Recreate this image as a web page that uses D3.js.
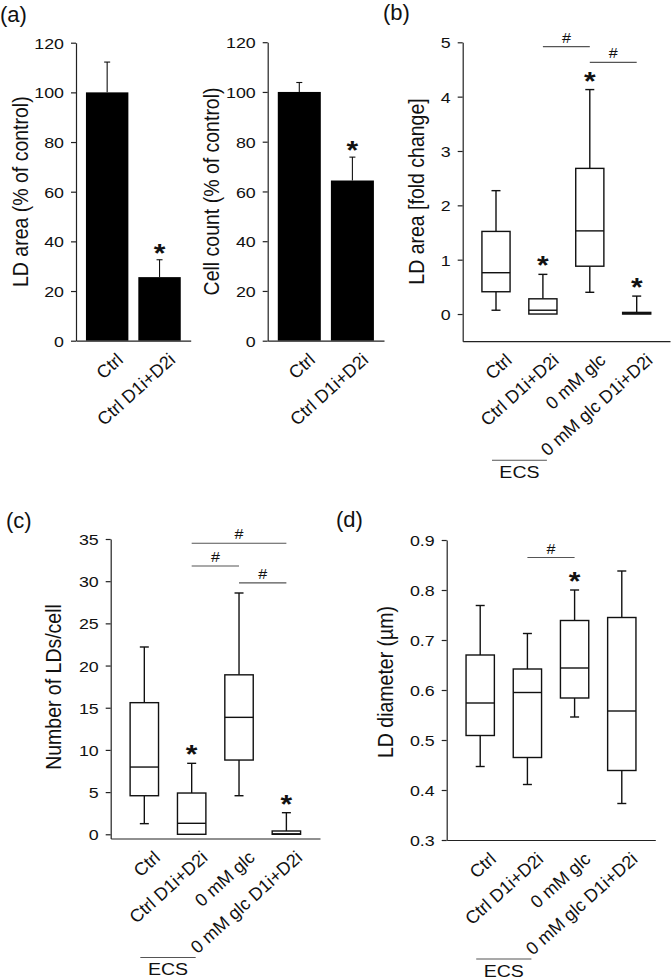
<!DOCTYPE html>
<html>
<head>
<meta charset="utf-8">
<script src="https://cdn.jsdelivr.net/npm/d3@7"></script>
<style>
  html, body { margin: 0; padding: 0; background: #fff; }
  svg { display: block; }
</style>
</head>
<body>
<svg id="fig" width="671" height="979"></svg>
<script>
// ---------------- DATA ----------------
const barCategories = ["Ctrl", "Ctrl D1i+D2i"];
const ldAreaMean = [100, 25.6];
const ldAreaErr = [12.2, 7.0];
const ldAreaStar = [false, true];
const cellCountMean = [100, 64.4];
const cellCountErr = [3.8, 9.4];
const cellCountStar = [false, true];
const barTicks = [0, 20, 40, 60, 80, 100, 120];

const boxCategories = ["Ctrl", "Ctrl D1i+D2i", "0 mM glc", "0 mM glc D1i+D2i"];
// [min, q1, median, q3, max]
const ldFoldStats = [
  [0.07, 0.41, 0.76, 1.52, 2.27],
  [0.00, 0.00, 0.07, 0.28, 0.73],
  [0.40, 0.88, 1.53, 2.68, 4.13],
  [0.00, 0.00, 0.01, 0.03, 0.33]
];
const ldFoldStar = [false, true, true, true];
const ldFoldTicks = [0, 1, 2, 3, 4, 5];
const ldFoldSig = [[1, 2, 4.92], [2, 3, 4.63]];

const ldNumStats = [
  [1.26, 4.57, 7.97, 15.6, 22.2],
  [0.00, 0.00, 1.30, 4.89, 8.41],
  [4.57, 8.80, 13.86, 18.9, 28.6],
  [0.00, 0.00, 0.05, 0.39, 2.56]
];
const ldNumStar = [false, true, false, true];
const ldNumTicks = [0, 5, 10, 15, 20, 25, 30, 35];
const ldNumSig = [[1, 3, 34.5], [1, 2, 31.8], [2, 3, 29.8]];

const ldDiamStats = [
  [0.447, 0.509, 0.574, 0.670, 0.769],
  [0.411, 0.465, 0.595, 0.642, 0.713],
  [0.546, 0.584, 0.644, 0.739, 0.800],
  [0.373, 0.439, 0.558, 0.745, 0.838]
];
const ldDiamStar = [false, false, true, false];
const ldDiamTicks = [0.3, 0.4, 0.5, 0.6, 0.7, 0.8, 0.9];
const ldDiamSig = [[1, 2, 0.865]];

const groupLabel = "ECS";

// ---------------- STYLE ----------------
const FONT = "'Liberation Sans', Arial, Helvetica, sans-serif";
const SX = 1.15;            // horizontal stretch of the original figure text
const AXIS_COLOR = "#222";
const SIG_COLOR = "#555";
const TEXT_COLOR = "#111";

const svg = d3.select("#fig");

function yAxis(x, y, ticks, fmt) {
  const ax = svg.append("g").attr("transform", `translate(${x},0)`)
    .call(d3.axisLeft(y).tickValues(ticks).tickSize(5).tickSizeOuter(0).tickFormat(fmt));
  ax.selectAll("path, line").attr("stroke", AXIS_COLOR).attr("stroke-width", 1.2);
  ax.selectAll(".tick text")
    .attr("x", 0).attr("dy", "0.36em")
    .attr("transform", `translate(-12,0) scale(${SX},1)`)
    .attr("font-size", 15.5).attr("font-family", FONT).attr("fill", TEXT_COLOR);
}

function xAxis(x, yPos) {
  const ax = svg.append("g").attr("transform", `translate(0,${yPos})`)
    .call(d3.axisBottom(x).tickSize(0).tickSizeOuter(0));
  ax.select(".domain").attr("stroke", AXIS_COLOR).attr("stroke-width", 1.2);
  ax.selectAll(".tick text")
    .attr("y", 0).attr("dy", 0).attr("text-anchor", "end")
    .attr("transform", "translate(17,20.5) rotate(-42)")
    .attr("font-size", 18).attr("font-family", FONT).attr("fill", TEXT_COLOR);
}

function yTitle(text, cx, cy) {
  svg.append("text")
    .attr("transform", `translate(${cx},${cy}) scale(${SX},1) rotate(-90)`)
    .attr("text-anchor", "middle").attr("dy", "0.35em")
    .attr("font-size", 19.5).attr("font-family", FONT).attr("fill", TEXT_COLOR)
    .text(text);
}

function panelLabel(text, x, y) {
  svg.append("text").attr("x", x).attr("y", y)
    .attr("font-size", 22).attr("font-family", FONT).attr("fill", TEXT_COLOR)
    .text(text);
}

function star(cx, cyCenter) {
  svg.append("text")
    .attr("transform", `translate(${cx},${cyCenter + 15}) scale(${SX},1)`)
    .attr("text-anchor", "middle")
    .attr("font-size", 26).attr("font-weight", "bold")
    .attr("font-family", FONT).attr("fill", TEXT_COLOR)
    .text("*");
}

function sigLines(x, y, sig) {
  const c = d => x(boxCategories[d]) + x.bandwidth() / 2;
  sig.forEach(([a, b, v]) => {
    svg.append("line")
      .attr("x1", c(a)).attr("x2", c(b)).attr("y1", y(v)).attr("y2", y(v))
      .attr("stroke", SIG_COLOR).attr("stroke-width", 1.1);
    svg.append("text")
      .attr("transform", `translate(${(c(a) + c(b)) / 2},${y(v) - 4}) scale(${SX},1)`)
      .attr("text-anchor", "middle")
      .attr("font-size", 14).attr("font-family", FONT).attr("fill", TEXT_COLOR)
      .text("#");
  });
}

function ecsBracket(x, axisY) {
  const c0 = x(boxCategories[0]) + x.bandwidth() / 2;
  const c1 = x(boxCategories[1]) + x.bandwidth() / 2;
  svg.append("line")
    .attr("x1", c0 - 4).attr("x2", c1 + 4)
    .attr("y1", axisY + 119).attr("y2", axisY + 119)
    .attr("stroke", SIG_COLOR).attr("stroke-width", 1.1);
  svg.append("text")
    .attr("transform", `translate(${(c0 + c1) / 2},${axisY + 136.5}) scale(${SX},1)`)
    .attr("text-anchor", "middle")
    .attr("font-size", 17).attr("font-family", FONT).attr("fill", TEXT_COLOR)
    .text(groupLabel);
}

// ---------------- BAR PANELS (a) ----------------
function barPanel(cfg) {
  const y = d3.scaleLinear().domain([0, 120]).range([cfg.y0, cfg.y120]);
  const x = d3.scaleBand().domain(barCategories).range([cfg.x0, cfg.x1])
    .paddingInner(0.19).paddingOuter(0.19);
  svg.append("g").selectAll("rect").data(cfg.mean).join("rect")
    .attr("x", (d, i) => x(barCategories[i]))
    .attr("width", x.bandwidth())
    .attr("y", d => y(d)).attr("height", d => y(0) - y(d))
    .attr("fill", "#000");
  cfg.mean.forEach((m, i) => {
    const cx = x(barCategories[i]) + x.bandwidth() / 2;
    const top = y(m + cfg.err[i]);
    svg.append("line").attr("x1", cx).attr("x2", cx).attr("y1", y(m)).attr("y2", top)
      .attr("stroke", "#111").attr("stroke-width", 1.1);
    svg.append("line").attr("x1", cx - 3).attr("x2", cx + 3).attr("y1", top).attr("y2", top)
      .attr("stroke", "#111").attr("stroke-width", 1.1);
    if (cfg.star[i]) star(cx, top - 13);
  });
  yAxis(cfg.x0, y, barTicks, d3.format("d"));
  xAxis(x, y(0));
  yTitle(cfg.title, cfg.titleX, (cfg.y0 + cfg.y120) / 2);
}

barPanel({ x0: 76, x1: 190.7, y0: 340.7, y120: 42.7, mean: ldAreaMean, err: ldAreaErr,
  star: ldAreaStar, title: "LD area (% of control)", titleX: 20 });
barPanel({ x0: 267.7, x1: 384, y0: 340.7, y120: 42.2, mean: cellCountMean, err: cellCountErr,
  star: cellCountStar, title: "Cell count (% of control)", titleX: 211 });
panelLabel("(a)", 0, 22);

// ---------------- BOX PANELS (b)(c)(d) ----------------
function boxPanel(cfg) {
  const y = d3.scaleLinear().domain(cfg.domain).range(cfg.yRange);
  const x = d3.scaleBand().domain(boxCategories).range([cfg.x0, cfg.x1])
    .paddingInner(0.4).paddingOuter(0.41);
  const bw = x.bandwidth();
  const capW = 4.5;
  const g = svg.append("g");
  cfg.stats.forEach((s, i) => {
    const [mn, q1, md, q3, mx] = s;
    const bx = x(boxCategories[i]);
    const cx = bx + bw / 2;
    const line = (x1, y1, x2, y2) => g.append("line")
      .attr("x1", x1).attr("y1", y1).attr("x2", x2).attr("y2", y2)
      .attr("stroke", "#111").attr("stroke-width", 1.4);
    if (mx > q3) { line(cx, y(q3), cx, y(mx)); line(cx - capW, y(mx), cx + capW, y(mx)); }
    if (mn < q1) { line(cx, y(q1), cx, y(mn)); line(cx - capW, y(mn), cx + capW, y(mn)); }
    g.append("rect").attr("x", bx).attr("width", bw)
      .attr("y", y(q3)).attr("height", Math.max(0, y(q1) - y(q3)))
      .attr("fill", "#fff").attr("stroke", "#111").attr("stroke-width", 1.4);
    line(bx, y(md), bx + bw, y(md));
    if (cfg.star[i]) star(cx, y(mx) - 15);
  });
  yAxis(cfg.x0, y, cfg.ticks, cfg.fmt);
  const axisY = y(cfg.domain[0]);
  xAxis(x, axisY);
  sigLines(x, y, cfg.sig);
  ecsBracket(x, axisY);
  yTitle(cfg.title, cfg.titleX, cfg.titleY);
}

boxPanel({ x0: 462.7, x1: 670, domain: [-0.5, 5], yRange: [341.2, 42.3], stats: ldFoldStats,
  star: ldFoldStar, ticks: ldFoldTicks, fmt: d3.format("d"), sig: ldFoldSig,
  title: "LD area [fold change]", titleX: 416.5, titleY: 191.5 });
panelLabel("(b)", 383, 20);

boxPanel({ x0: 110.7, x1: 320, domain: [-0.5, 35], yRange: [838.5, 539], stats: ldNumStats,
  star: ldNumStar, ticks: ldNumTicks, fmt: d3.format("d"), sig: ldNumSig,
  title: "Number of LDs/cell", titleX: 53, titleY: 687 });
panelLabel("(c)", 6, 528);

boxPanel({ x0: 446.7, x1: 655.3, domain: [0.3, 0.9], yRange: [840, 540], stats: ldDiamStats,
  star: ldDiamStar, ticks: ldDiamTicks, fmt: d3.format(".1f"), sig: ldDiamSig,
  title: "LD diameter (\u00B5m)", titleX: 385, titleY: 682 });
panelLabel("(d)", 336, 527);
</script>
</body>
</html>
